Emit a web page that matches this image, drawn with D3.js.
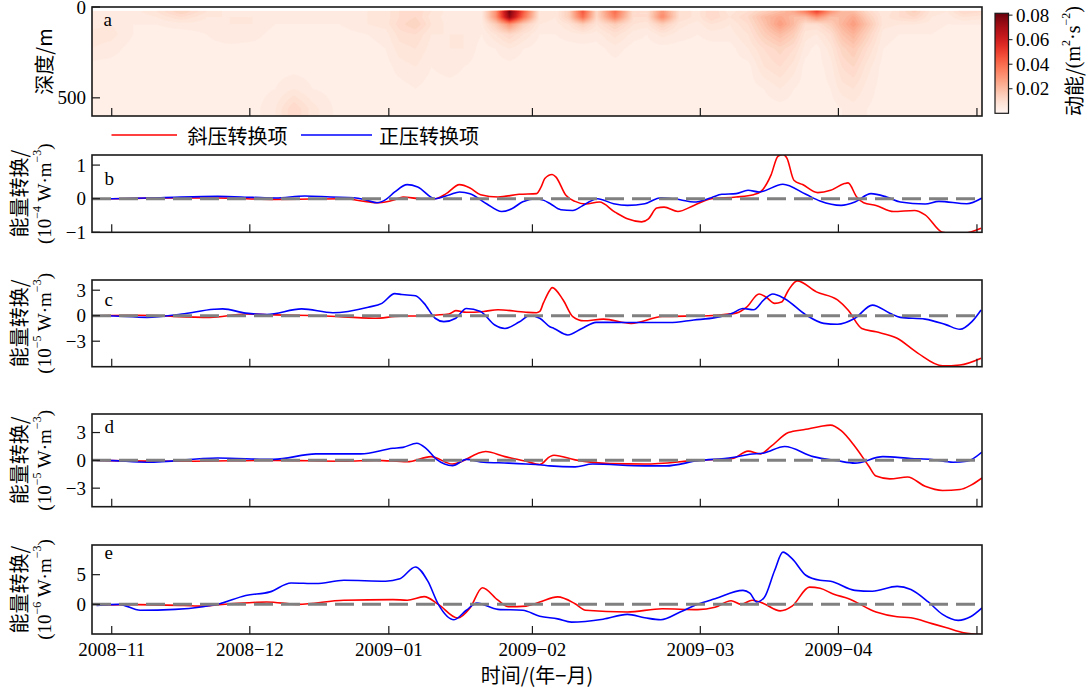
<!DOCTYPE html>
<html>
<head>
<meta charset="utf-8">
<script src="https://cdn.jsdelivr.net/npm/d3@7"></script>
<style>
  html, body { margin: 0; padding: 0; background: #fff; }
  svg { display: block; }
  text { font-family: "Liberation Serif", "Times New Roman", serif; fill: #000; }
  .cjk { font-family: "Noto Sans CJK SC", "Liberation Serif", sans-serif; }
</style>
</head>
<body>
<svg id="chart" width="1089" height="688"></svg>
<script>
// ---------------- data ----------------
// time axis in days from the start of the record
const xTickDays   = [4.3, 34.4, 64.7, 96.0, 132.6, 162.7, 192.9];
const xTickLabels = ["2008−11", "2008−12", "2009−01", "2009−02", "2009−03", "2009−04", ""];

// kinetic energy section (m^2 s^-2): sample days x sample depths
const keDays = [0, 4, 9, 14, 19.5, 25, 30, 35, 40, 44, 48, 54, 60, 64, 67, 70.5, 74, 78, 81, 85,
                88, 91, 94, 97.5, 101, 104, 107, 110, 114, 118, 121, 124.3, 128, 132, 135, 139, 143,
                146.5, 150, 153, 155.5, 158, 161, 163.5, 166, 169, 172.5, 176, 179.3, 183, 186.5, 190, 194];
const keDepths = [25, 55, 95, 150, 230, 330, 450, 560];
const ke025 = [.004,.004,.005,.008,.014,.008,.005,.006,.004,.004,.004,.004,.006,.007,.010,.012,.008,.005,.004,.006,
               .030,.080,.045,.008,.006,.015,.045,.012,.040,.010,.010,.030,.010,.007,.012,.007,.010,
               .015,.020,.025,.035,.050,.030,.020,.020,.012,.006,.010,.015,.007,.006,.012,.010];
const ke055 = [.004,.004,.004,.006,.010,.006,.006,.006,.004,.004,.004,.004,.006,.007,.010,.012,.007,.005,.004,.006,
               .030,.075,.040,.008,.006,.015,.040,.012,.035,.010,.010,.033,.010,.007,.012,.008,.012,
               .020,.025,.020,.020,.030,.020,.020,.025,.015,.007,.010,.012,.006,.005,.008,.007];
const ke095 = [.005,.006,.004,.004,.005,.005,.006,.006,.004,.004,.004,.004,.006,.007,.011,.014,.008,.005,.005,.005,
               .015,.030,.015,.006,.005,.008,.015,.008,.015,.008,.007,.015,.007,.005,.008,.006,.010,
               .018,.028,.020,.010,.010,.015,.022,.028,.018,.007,.006,.006,.005,.004,.004,.004];
const ke150 = [.007,.007,.004,.003,.003,.004,.006,.005,.003,.003,.003,.003,.004,.005,.009,.010,.006,.006,.006,.004,
               .008,.012,.008,.004,.004,.005,.006,.005,.009,.005,.004,.007,.005,.004,.005,.005,.008,
               .015,.020,.015,.007,.006,.010,.018,.022,.014,.005,.004,.004,.004,.003,.003,.003];
const ke230 = [.006,.005,.003,.003,.003,.003,.003,.003,.003,.003,.003,.003,.003,.004,.007,.008,.005,.006,.006,.003,
               .004,.006,.004,.003,.003,.003,.003,.003,.005,.003,.003,.003,.003,.003,.003,.003,.006,
               .010,.013,.010,.005,.003,.007,.013,.016,.010,.004,.003,.003,.003,.003,.003,.003];
const ke330 = [.003,.003,.003,.003,.003,.003,.003,.003,.003,.003,.003,.003,.003,.003,.005,.006,.004,.005,.004,.003,
               .003,.003,.003,.003,.003,.003,.003,.003,.003,.003,.003,.003,.003,.003,.003,.003,.003,
               .008,.010,.007,.003,.003,.005,.010,.012,.007,.003,.003,.003,.003,.003,.003,.003];
const ke450 = [.003,.003,.003,.003,.003,.003,.003,.003,.004,.006,.004,.003,.003,.003,.003,.004,.003,.003,.003,.003,
               .003,.003,.003,.003,.003,.003,.003,.003,.003,.003,.003,.003,.003,.003,.003,.003,.003,
               .004,.006,.004,.003,.003,.004,.007,.008,.005,.003,.003,.003,.003,.003,.003,.003];
const ke560 = [.003,.003,.003,.003,.003,.003,.003,.003,.006,.012,.007,.003,.003,.003,.003,.003,.003,.003,.003,.003,
               .003,.003,.003,.003,.003,.003,.003,.003,.003,.003,.003,.003,.003,.003,.003,.003,.003,
               .003,.003,.003,.003,.003,.003,.004,.005,.004,.003,.003,.003,.003,.003,.003,.003];
const keRows = [ke025, ke055, ke095, ke150, ke230, ke330, ke450, ke560];
const keTicks = [0.02, 0.04, 0.06, 0.08];
const depthTicks = [0, 500];

// energy conversion terms: [day, value]
const bBaroclinic = [[1,0],[4.3,0],[15,0.02],[27.4,0.02],[40,-0.02],[54.9,0],[59.5,-0.08],[62.6,-0.12],[66,-0.03],
  [67.8,0.05],[71.7,0],[74.8,0],[77.2,0.15],[80.1,0.42],[82.4,0.32],[84.7,0.12],[88.5,0.05],[93.1,0.13],[96.9,0.15],
  [97.9,0.35],[98.7,0.6],[100.3,0.72],[101.1,0.65],[103.3,0.1],[105.3,-0.08],[107.6,-0.16],[110.6,-0.1],[114,-0.4],
  [116.7,-0.6],[119.8,-0.69],[121.3,-0.6],[123.1,-0.28],[124.7,-0.25],[127.7,-0.38],[131.2,-0.2],[135,0],[140.4,0.05],
  [144.2,0.12],[145.7,0.2],[148,0.7],[149.5,1.26],[150.6,1.32],[151.5,1.2],[153,0.55],[154.9,0.42],[158.2,0.18],
  [161,0.25],[164,0.45],[164.8,0.47],[166.7,0.05],[168.2,-0.12],[170.9,-0.2],[174.7,-0.38],[179.3,-0.35],
  [181.6,-0.48],[185.4,-1.0],[189.2,-1.05],[193.8,-0.88]];
const bBarotropic = [[1,0],[4.3,0],[15,0.03],[27.4,0.07],[35,0.04],[40,0.02],[46.4,0.08],[52,0.05],[57.1,0.03],
  [60,-0.05],[62.1,-0.12],[64.1,-0.02],[66,0.2],[68.7,0.42],[71,0.35],[74.8,0],[78,0.12],[80.1,0.2],[82.4,0.15],
  [86,-0.15],[89.3,-0.38],[91.5,-0.3],[93.9,-0.09],[96.9,0],[98.5,-0.05],[99.9,-0.15],[102.2,-0.33],[104.8,-0.35],
  [106.8,-0.22],[108.3,-0.1],[110.2,0],[113.7,-0.15],[116.7,-0.2],[120.5,-0.15],[124,0.03],[128.2,-0.03],
  [131.2,-0.1],[135,0.03],[137.3,0.13],[140.4,0.15],[143,0.25],[145.4,0.2],[150.6,0.43],[155.6,0.13],
  [158.7,-0.07],[163.3,-0.2],[166.3,-0.1],[169.8,0.15],[173.2,0.05],[176.2,-0.1],[181.6,-0.16],[184.6,-0.08],
  [190.7,-0.15],[194,0.02]];

const cBaroclinic = [[1,0],[10,0.05],[25.7,-0.2],[33.5,0.2],[40,0.1],[50,0],[61.7,-0.3],[66,-0.1],[71.7,0],
  [77.8,0.2],[79.3,0.6],[81.6,0.4],[85.4,0.5],[88.5,0.7],[94.6,0.4],[96.9,0.35],[97.6,0.5],[98.4,1.5],[99.8,3.0],
  [100.3,3.3],[102.7,1.85],[104.8,-0.1],[107.2,-0.6],[111.5,-0.4],[117.5,-0.9],[124.3,-0.1],[134.3,0],[140.4,0.3],
  [142.7,1.0],[145.4,2.55],[146.9,2.2],[148.8,1.45],[150.3,1.6],[151.8,3.0],[153.7,4.1],[157.9,2.8],[162.5,1.85],
  [164.8,0.67],[167.8,-1.5],[170.9,-1.9],[175.5,-2.65],[180,-4.4],[185.4,-5.9],[189.2,-5.8],[193.8,-5.0]];
const cBarotropic = [[1,0],[2.8,0],[12,-0.2],[19.6,0.2],[26.6,0.75],[28.5,0.8],[33.5,0.3],[38.1,0.15],[45.7,0.8],
  [52.5,0.35],[60.2,1.0],[63.2,1.45],[66,2.6],[67.5,2.5],[68.7,2.43],[70.5,2.35],[72.4,1.45],[74.8,-0.3],
  [76.7,-0.7],[79.3,-0.3],[81.6,0.85],[84.7,0.5],[87.8,-1.1],[90,-1.5],[93.1,-0.75],[95.4,0],[97.6,-0.3],
  [99.8,-1.3],[100.7,-1.5],[103.7,-2.27],[106.8,-1.5],[109.9,-0.78],[116.7,-0.8],[125.9,-0.8],[131.2,-0.5],
  [135.8,-0.23],[139.6,0.3],[141.9,0.85],[144.2,0.7],[146.5,1.9],[148.4,2.55],[151,2.0],[155.6,0.1],[159.5,-0.9],
  [162.5,-1.0],[166.3,-0.3],[170.1,1.25],[173.9,0.3],[176.2,-0.2],[181.6,-0.4],[186.1,-1.05],[189.2,-1.6],
  [191.8,-0.7],[193.8,0.67]];

const dBaroclinic = [[1,0],[20,-0.1],[40,0],[55,-0.1],[62,0],[68.7,-0.15],[73.9,0.4],[78.6,-0.4],[85.8,0.95],
  [90,0.4],[94.6,-0.1],[97.6,-0.45],[99.8,0.4],[100.7,0.55],[105.3,0.05],[112.9,-0.35],[120.5,-0.4],[132,0],
  [139.6,0.2],[143,1.0],[145.7,0.7],[148,1.5],[151.8,3.0],[155.6,3.35],[158.7,3.65],[161,3.8],[163.3,3.2],
  [166.3,1.5],[169.3,-0.6],[170.9,-1.7],[173.9,-2.0],[177.8,-1.8],[181.6,-2.8],[185.4,-3.25],[189.2,-3.15],
  [191.5,-2.7],[194,-1.9]];
const dBarotropic = [[1,0],[2.8,0],[12,-0.2],[27.4,0.25],[39.6,0.1],[48.8,0.7],[58.6,0.7],[65.6,1.3],[67.8,1.4],
  [70.8,1.85],[72.8,1.3],[75.1,0.1],[78.6,-0.57],[81.6,0.1],[85.4,-0.2],[90.8,-0.3],[94.6,-0.4],[97.6,-0.47],
  [99.8,-0.6],[105.3,-0.7],[109.1,-0.4],[120.5,-0.6],[125.1,-0.6],[132,-0.05],[139.6,0.3],[143.4,0.65],
  [146.5,0.8],[151,1.5],[157.2,0.4],[162.5,-0.05],[166.3,-0.3],[172.4,0.4],[178.5,0.2],[183.1,0.1],
  [187.7,-0.2],[190.7,-0.1],[194,0.9]];

const eBaroclinic = [[1,-0.1],[10,-0.05],[20,-0.2],[24.2,-0.3],[30,0.1],[35,0.3],[38.1,0.4],[44.9,0],[54.9,0.7],
  [65.6,0.8],[68.7,0.7],[72.4,1.3],[75.5,0],[79.7,-2.3],[82.4,-0.6],[85.1,2.8],[88.5,0.7],[90.8,-0.4],[94.6,-0.3],
  [97.6,0.4],[101.5,1.25],[105.3,0.1],[107.6,-1.0],[116.7,-1.3],[124.3,-0.75],[132,-0.9],[135.8,-0.5],[139.3,0.6],
  [141.5,0],[143.9,0.7],[146.5,0.1],[150,-1.1],[152.6,-0.3],[156.4,2.9],[158.7,2.7],[161.7,1.7],[164.8,1.0],
  [170.9,-1.3],[175.5,-2.1],[178.5,-2.25],[183.1,-3.25],[186.1,-3.9],[190,-4.8],[194,-5.1]];
const eBarotropic = [[1,-0.17],[5.9,0],[10.5,-1.0],[18.1,-0.85],[24.2,-0.4],[27.4,0],[33.5,1.5],[38.8,2.1],
  [43.4,3.6],[48.8,3.5],[54.9,4.05],[64,3.9],[67.1,4.3],[70.5,6.3],[73.2,3.9],[75.5,0],[78.9,-2.6],[81.6,-1.0],
  [83.9,0.2],[88.5,-0.85],[93.9,-1.0],[97.6,-2.0],[101.5,-2.45],[104.5,-3.0],[111.4,-2.5],[116.7,-1.7],
  [120.5,-2.25],[124,-2.6],[128.2,-1.3],[132,0],[135.8,0.95],[141.9,2.36],[143.4,1.9],[144.9,0.4],[146.5,1.1],
  [148.8,5.7],[150.6,8.8],[152.6,7.7],[155.6,4.9],[158.7,4.05],[161,3.9],[166.3,2.36],[170.1,2.2],[175.5,3.03],
  [178.5,2.5],[182.3,0.4],[185.4,-1.7],[188.8,-2.7],[191.5,-2.1],[194,-0.6]];

const seriesNames = ["斜压转换项", "正压转换项"];
const seriesColors = ["#ff0000", "#0000ff"];

// ---------------- layout ----------------
const plotLeft = 92, plotRight = 982;
const svg = d3.select("#chart");
const x = d3.scaleLinear().domain([0, 194]).range([plotLeft, plotRight]);
const TICK = 8;
const frameColor = "#1a1a1a";

// panels b-e
const panels = [
  { id: "b", top: 155, bottom: 232.3, domain: [-1, 1.3], ticks: [-1, 0, 1], exp: "−4", letterDy: 30, red: bBaroclinic, blue: bBarotropic },
  { id: "c", top: 280, bottom: 366.7, domain: [-6, 4.2], ticks: [-3, 0, 3], exp: "−5", letterDy: 26, red: cBaroclinic, blue: cBarotropic },
  { id: "d", top: 414, bottom: 506.7, domain: [-5, 5], ticks: [-3, 0, 3], exp: "−5", letterDy: 19, red: dBaroclinic, blue: dBarotropic },
  { id: "e", top: 545, bottom: 634, domain: [-5, 10], ticks: [0, 5], exp: "−6", letterDy: 13.5, red: eBaroclinic, blue: eBarotropic }
];

const defs = svg.append("defs");

function xTicksAt(g, bottom) {
  g.selectAll(null).data(xTickDays).join("line")
    .attr("x1", d => x(d)).attr("x2", d => x(d))
    .attr("y1", bottom).attr("y2", bottom - TICK)
    .attr("stroke", frameColor).attr("stroke-width", 1.2);
}

function yTicksAt(g, scale, ticks, fmt) {
  g.selectAll(null).data(ticks).join("line")
    .attr("x1", plotLeft).attr("x2", plotLeft + TICK)
    .attr("y1", d => scale(d)).attr("y2", d => scale(d))
    .attr("stroke", frameColor).attr("stroke-width", 1.2);
  g.selectAll(null).data(ticks).join("text")
    .attr("x", plotLeft - 6).attr("y", d => scale(d))
    .attr("text-anchor", "end").attr("dominant-baseline", "central")
    .attr("font-size", 19).text(fmt);
}

function frame(g, top, bottom) {
  g.append("rect").attr("x", plotLeft).attr("y", top)
    .attr("width", plotRight - plotLeft).attr("height", bottom - top)
    .attr("fill", "none").attr("stroke", frameColor).attr("stroke-width", 1.6);
}

// ---------------- panel a: kinetic energy section ----------------
const aTop = 7, aBottom = 116;
const depth = d3.scaleLinear().domain([0, 600]).range([aTop, aBottom]);
const keMax = 0.0815;
const keColor = v => d3.interpolateReds(Math.max(0, Math.min(1, v / keMax)));

function keAt(day, z) {
  let i = d3.bisectRight(keDays, day) - 1;
  i = Math.max(0, Math.min(keDays.length - 2, i));
  let tx = (day - keDays[i]) / (keDays[i + 1] - keDays[i]);
  tx = Math.max(0, Math.min(1, tx));
  let j = d3.bisectRight(keDepths, z) - 1;
  j = Math.max(0, Math.min(keDepths.length - 2, j));
  let tz = (z - keDepths[j]) / (keDepths[j + 1] - keDepths[j]);
  tz = Math.max(0, Math.min(1, tz));
  const r0 = keRows[j], r1 = keRows[j + 1];
  const v0 = r0[i] * (1 - tx) + r0[i + 1] * tx;
  const v1 = r1[i] * (1 - tx) + r1[i + 1] * tx;
  return v0 * (1 - tz) + v1 * tz;
}

const gridDay0 = 0, gridDayStep = 0.5, gridZ0 = 22, gridZStep = 3;
const nx = Math.round(194 / gridDayStep) + 1;
const nz = Math.round((600 - gridZ0) / gridZStep) + 1;
const grid = new Array(nx * nz);
for (let j = 0; j < nz; j++) {
  for (let i = 0; i < nx; i++) {
    grid[j * nx + i] = keAt(gridDay0 + i * gridDayStep, gridZ0 + j * gridZStep);
  }
}
const keLevels = d3.range(0.002, 0.0815, 0.002);
const contours = d3.contours().size([nx, nz]).thresholds(keLevels)(grid);
const proj = d3.geoTransform({
  point(px, py) {
    this.stream.point(x(gridDay0 + (px - 0.5) * gridDayStep), depth(gridZ0 + (py - 0.5) * gridZStep));
  }
});
const keyPath = d3.geoPath(proj);

defs.append("clipPath").attr("id", "clip-a").append("rect")
  .attr("x", plotLeft).attr("y", depth(gridZ0 - 1))
  .attr("width", plotRight - plotLeft).attr("height", aBottom - depth(gridZ0 - 1));

const gA = svg.append("g");
gA.append("rect").attr("x", plotLeft).attr("y", aTop).attr("width", plotRight - plotLeft)
  .attr("height", aBottom - aTop).attr("fill", "#ffffff");
const gHeat = gA.append("g").attr("clip-path", "url(#clip-a)");
gHeat.append("rect").attr("x", plotLeft).attr("y", depth(gridZ0 - 1))
  .attr("width", plotRight - plotLeft).attr("height", aBottom - depth(gridZ0 - 1))
  .attr("fill", keColor(0.001));
gHeat.selectAll("path").data(contours).join("path")
  .attr("d", keyPath)
  .attr("fill", d => keColor(d.value + 0.001));

frame(gA, aTop, aBottom);
xTicksAt(gA, aBottom);
yTicksAt(gA, depth, depthTicks, d => d);
gA.append("text").attr("x", 103.5).attr("y", aTop + 19).attr("font-size", 19).text("a");
gA.append("text").attr("class", "cjk")
  .attr("transform", `translate(43,${(aTop + aBottom) / 2}) rotate(-90)`)
  .attr("text-anchor", "middle").attr("dominant-baseline", "central")
  .attr("font-size", 20).text("深度/m");

// colorbar
const cbX = 995, cbW = 13.5, cbTop = 13.3, cbBottom = 113.3;
const cbScale = d3.scaleLinear().domain([0, keMax]).range([cbBottom, cbTop]);
const grad = defs.append("linearGradient").attr("id", "ke-grad")
  .attr("x1", 0).attr("y1", 1).attr("x2", 0).attr("y2", 0);
grad.selectAll("stop").data(d3.range(0, 1.0001, 0.05)).join("stop")
  .attr("offset", d => d).attr("stop-color", d => d3.interpolateReds(d));
const gCb = svg.append("g");
gCb.append("rect").attr("x", cbX).attr("y", cbTop).attr("width", cbW).attr("height", cbBottom - cbTop)
  .attr("fill", "url(#ke-grad)").attr("stroke", frameColor).attr("stroke-width", 1.2);
gCb.selectAll(null).data(keTicks).join("line")
  .attr("x1", cbX + cbW).attr("x2", cbX + cbW + 4)
  .attr("y1", d => cbScale(d)).attr("y2", d => cbScale(d))
  .attr("stroke", frameColor).attr("stroke-width", 1);
gCb.selectAll(null).data(keTicks).join("text")
  .attr("x", cbX + cbW + 7.5).attr("y", d => cbScale(d))
  .attr("dominant-baseline", "central").attr("font-size", 19)
  .text(d => d3.format(".2f")(d));
const cbLabel = gCb.append("text")
  .attr("transform", `translate(1073,61) rotate(-90)`)
  .attr("text-anchor", "middle").attr("dominant-baseline", "central").attr("font-size", 20);
cbLabel.append("tspan").attr("class", "cjk").text("动能/");
cbLabel.append("tspan").text("(m");
cbLabel.append("tspan").attr("font-size", 12).attr("dy", -7).text("2");
cbLabel.append("tspan").attr("dy", 7).text("·s");
cbLabel.append("tspan").attr("font-size", 12).attr("dy", -7).text("−2");
cbLabel.append("tspan").attr("dy", 7).text(")");

// ---------------- legend ----------------
const gLeg = svg.append("g");
const legendY = 135;
const legendItems = [
  { x1: 111.5, x2: 177, tx: 187.5 },
  { x1: 301, x2: 372, tx: 379 }
];
legendItems.forEach((it, k) => {
  gLeg.append("line").attr("x1", it.x1).attr("x2", it.x2).attr("y1", legendY).attr("y2", legendY)
    .attr("stroke", seriesColors[k]).attr("stroke-width", 1.6);
  gLeg.append("text").attr("class", "cjk").attr("x", it.tx).attr("y", legendY)
    .attr("dominant-baseline", "central").attr("font-size", 20).text(seriesNames[k]);
});

// ---------------- panels b-e: conversion terms ----------------
const fmtTick = d3.format("d");
panels.forEach(p => {
  const y = d3.scaleLinear().domain(p.domain).range([p.bottom, p.top]);
  const g = svg.append("g");
  defs.append("clipPath").attr("id", "clip-" + p.id).append("rect")
    .attr("x", plotLeft).attr("y", p.top).attr("width", plotRight - plotLeft).attr("height", p.bottom - p.top);
  const line = d3.line().x(d => x(d[0])).y(d => y(d[1])).curve(d3.curveMonotoneX);
  const gl = g.append("g").attr("clip-path", `url(#clip-${p.id})`);
  gl.append("path").datum(p.red).attr("d", line)
    .attr("fill", "none").attr("stroke", seriesColors[0]).attr("stroke-width", 1.6);
  gl.append("path").datum(p.blue).attr("d", line)
    .attr("fill", "none").attr("stroke", seriesColors[1]).attr("stroke-width", 1.6);
  gl.append("line").attr("x1", plotLeft).attr("x2", plotRight)
    .attr("y1", y(0)).attr("y2", y(0))
    .attr("stroke", "#808080").attr("stroke-width", 3).attr("stroke-dasharray", "19,8");

  frame(g, p.top, p.bottom);
  xTicksAt(g, p.bottom);
  yTicksAt(g, y, p.ticks, fmtTick);
  g.append("text").attr("x", 104.5).attr("y", p.top + p.letterDy).attr("font-size", 19).text(p.id);

  const cy = (p.top + p.bottom) / 2;
  g.append("text").attr("class", "cjk")
    .attr("transform", `translate(18.5,${cy}) rotate(-90)`)
    .attr("text-anchor", "middle").attr("dominant-baseline", "central")
    .attr("font-size", 20).text("能量转换/");
  const unit = g.append("text")
    .attr("transform", `translate(43.5,${cy}) rotate(-90)`)
    .attr("text-anchor", "middle").attr("dominant-baseline", "central").attr("font-size", 19);
  unit.append("tspan").text("(10");
  unit.append("tspan").attr("font-size", 12).attr("dy", -7).text(p.exp);
  unit.append("tspan").attr("dy", 7).text(" W·m");
  unit.append("tspan").attr("font-size", 12).attr("dy", -7).text("−3");
  unit.append("tspan").attr("dy", 7).text(")");
});

// ---------------- time axis labels ----------------
const gX = svg.append("g");
gX.selectAll(null).data(xTickDays.map((d, i) => [d, xTickLabels[i]])).join("text")
  .attr("x", d => x(d[0])).attr("y", 656)
  .attr("text-anchor", "middle").attr("font-size", 19).text(d => d[1]);
const xTitle = gX.append("text").attr("x", (plotLeft + plotRight) / 2).attr("y", 674)
  .attr("text-anchor", "middle").attr("dominant-baseline", "central").attr("font-size", 20);
xTitle.append("tspan").attr("class", "cjk").text("时间/(年−月)");
</script>
</body>
</html>
